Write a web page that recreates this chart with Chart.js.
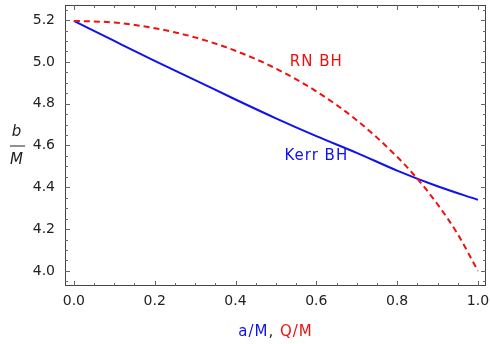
<!DOCTYPE html>
<html>
<head>
<meta charset="utf-8">
<script src="https://cdn.jsdelivr.net/npm/chart.js@4"></script>
<style>
  html, body { margin: 0; padding: 0; background: #fff; }
  #wrap { width: 490px; height: 344px; }
</style>
</head>
<body>
<div id="wrap"><canvas id="chart" width="490" height="344"></canvas></div>
<script>
// values
const spinValues = [0, 0.1, 0.2, 0.3, 0.4, 0.5, 0.6, 0.7, 0.8, 0.9, 1.0];
const kerrB = [5.196, 5.10, 5.005, 4.913, 4.82, 4.73, 4.645, 4.565, 4.48, 4.405, 4.34];

const chargeValues = [0, 0.1, 0.2, 0.3, 0.4, 0.5, 0.6, 0.7, 0.8, 0.85, 0.9, 0.95, 1.0];
const rnB = [5.196, 5.188, 5.161, 5.117, 5.053, 4.968, 4.859, 4.721, 4.546, 4.441, 4.319, 4.176, 4.0];

const xMajorTicks = [0, 0.2, 0.4, 0.6, 0.8, 1.0];
const yMajorTicks = [4.0, 4.2, 4.4, 4.6, 4.8, 5.0, 5.2];

const BLUE = "#1010f0";
const RED = "#f01010";
const FONT = "'DejaVu Sans', sans-serif";

const toPoints = (xs, ys) => xs.map((x, i) => ({ x: x, y: ys[i] }));

// frame with inward ticks on all four sides, like the original
const framePlugin = {
  id: "frame",
  afterDatasetsDraw(chart) {
    const { ctx, chartArea: a, scales } = chart;
    const xs = scales.x, ys = scales.y;
    ctx.save();
    ctx.strokeStyle = "#444";
    ctx.lineWidth = 1;
    ctx.strokeRect(a.left + 0.5, a.top + 0.5, a.right - a.left - 1, a.bottom - a.top - 1);

    ctx.strokeStyle = "#666";
    for (let i = 0; i <= 21; i++) {
      const v = Math.round(i * 5) / 100;
      const len = i % 4 === 0 ? 5 : 3;
      const px = Math.round(xs.getPixelForValue(v)) + 0.5;
      ctx.beginPath();
      ctx.moveTo(px, a.bottom); ctx.lineTo(px, a.bottom - len);
      ctx.moveTo(px, a.top); ctx.lineTo(px, a.top + len);
      ctx.stroke();
    }
    for (let i = 79; i <= 105; i++) {
      const v = i * 0.05;
      if (v < ys.min || v > ys.max) continue;
      const len = i % 4 === 0 ? 5 : 3;
      const py = Math.round(ys.getPixelForValue(v)) + 0.5;
      ctx.beginPath();
      ctx.moveTo(a.left, py); ctx.lineTo(a.left + len, py);
      ctx.moveTo(a.right, py); ctx.lineTo(a.right - len, py);
      ctx.stroke();
    }
    ctx.restore();
  }
};

// curve labels and axis titles
const labelPlugin = {
  id: "labels",
  afterDraw(chart) {
    const { ctx, chartArea: a, scales } = chart;
    ctx.save();
    ctx.letterSpacing = "1px";
    ctx.textAlign = "center";
    ctx.textBaseline = "middle";
    ctx.font = "15px " + FONT;

    ctx.fillStyle = RED;
    ctx.fillText("RN BH", scales.x.getPixelForValue(0.6), scales.y.getPixelForValue(5.0));
    ctx.fillStyle = BLUE;
    ctx.fillText("Kerr BH", scales.x.getPixelForValue(0.6), scales.y.getPixelForValue(4.55));

    // x title: a/M, Q/M
    const cx = (a.left + a.right) / 2;
    const ty = 332;
    const parts = [["a/M", BLUE], [", ", "#222"], ["Q/M", RED]];
    const widths = parts.map(p => ctx.measureText(p[0]).width);
    let x = cx - widths.reduce((s, w) => s + w, 0) / 2;
    ctx.textAlign = "left";
    parts.forEach((p, i) => {
      ctx.fillStyle = p[1];
      ctx.fillText(p[0], x, ty);
      x += widths[i];
    });

    // y title: b over M
    const my = (a.top + a.bottom) / 2;
    ctx.textAlign = "center";
    ctx.fillStyle = "#222";
    ctx.font = "italic 15px " + FONT;
    ctx.fillText("b", 17, my - 13);
    ctx.fillText("M", 17, my + 15);
    ctx.strokeStyle = "#222";
    ctx.lineWidth = 1;
    ctx.beginPath();
    ctx.moveTo(10, my + 0.5); ctx.lineTo(25, my + 0.5);
    ctx.stroke();
    ctx.restore();
  }
};

const noPad = s => { s.paddingTop = 0; s.paddingBottom = 0; s.paddingLeft = 0; s.paddingRight = 0; };

new Chart(document.getElementById("chart").getContext("2d"), {
  type: "scatter",
  data: {
    datasets: [
      {
        label: "RN BH",
        data: toPoints(chargeValues, rnB),
        showLine: true,
        borderColor: RED,
        borderWidth: 2,
        borderDash: [6, 4],
        pointRadius: 0,
        cubicInterpolationMode: "monotone"
      },
      {
        label: "Kerr BH",
        data: toPoints(spinValues, kerrB),
        showLine: true,
        borderColor: BLUE,
        borderWidth: 2,
        pointRadius: 0,
        cubicInterpolationMode: "monotone"
      }
    ]
  },
  options: {
    responsive: false,
    animation: false,
    layout: { padding: { left: 0, top: 5, right: 4, bottom: 0 } },
    plugins: {
      legend: { display: false },
      tooltip: { enabled: false }
    },
    scales: {
      x: {
        type: "linear",
        min: -0.022,
        max: 1.02,
        grid: { display: false, drawTicks: false },
        border: { display: false },
        afterBuildTicks: s => { s.ticks = xMajorTicks.map(v => ({ value: v })); },
        afterFit: s => { s.height = 58; noPad(s); },
        ticks: {
          color: "#222",
          padding: 7,
          maxRotation: 0,
          font: { family: FONT, size: 14 },
          callback: v => v.toFixed(1)
        }
      },
      y: {
        type: "linear",
        min: 3.928,
        max: 5.272,
        grid: { display: false, drawTicks: false },
        border: { display: false },
        afterBuildTicks: s => { s.ticks = yMajorTicks.map(v => ({ value: v })); },
        afterFit: s => { s.width = 65; noPad(s); },
        ticks: {
          color: "#222",
          padding: 10,
          font: { family: FONT, size: 14 },
          callback: v => v.toFixed(1)
        }
      }
    }
  },
  plugins: [framePlugin, labelPlugin]
});
</script>
</body>
</html>
